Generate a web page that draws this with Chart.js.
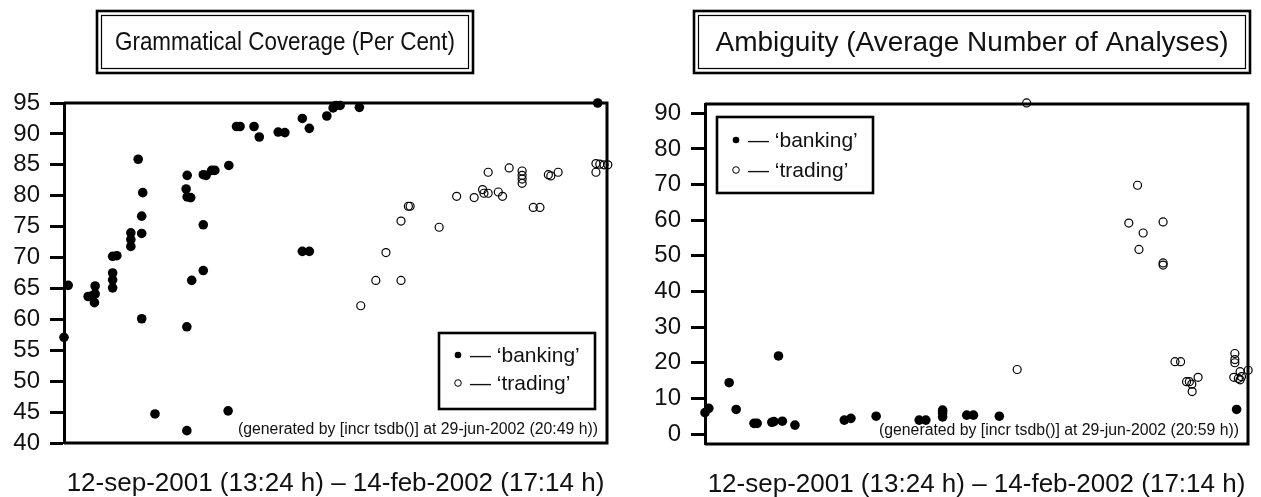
<!DOCTYPE html>
<html>
<head>
<meta charset="utf-8">
<script src="https://cdn.jsdelivr.net/npm/chart.js@4.4.1/dist/chart.umd.min.js"></script>
<style>
  body { margin: 0; background: #fff; }
  #wrap { position: relative; width: 1261px; height: 497px; }
  .panel { position: absolute; top: 0; }
</style>
</head>
<body>
<div id="wrap">
  <div class="panel" style="left:0"><canvas id="cov" width="630" height="497"></canvas></div>
  <div class="panel" style="left:630px"><canvas id="amb" width="631" height="497"></canvas></div>
</div>
<script>
// x values are days since 12-sep-2001 (13:24 h); the range ends 14-feb-2002 (17:14 h)
const periodDays = 155.16;
const periodLabel = '12-sep-2001 (13:24 h) \u2013 14-feb-2002 (17:14 h)';
const seriesNames = ['banking', 'trading'];

// coverage (per cent)
const covBankingDays = [0, 1.2, 6.9, 8.0, 8.9, 8.9, 8.7, 13.9, 13.9, 13.9, 13.9, 15.1, 19.1, 19.1, 19.1,
  21.2, 22.5, 22.2, 22.2, 22.2, 26.0, 34.9, 35.2, 35.2, 35.1, 35.1, 36.2, 36.5, 39.8, 39.8, 39.8,
  40.6, 42.2, 43.1, 46.9, 47.1, 49.3, 50.3, 54.3, 55.8, 61.2, 63.1, 68.1, 68.1, 70.1, 70.1, 75.1,
  76.9, 77.7, 78.9, 84.4, 152.5];
const covBanking = [57.1, 65.5, 63.7, 63.8, 65.4, 64.1, 62.7, 67.5, 66.4, 65.1, 70.2, 70.3, 74.0, 72.9, 71.8,
  85.9, 80.5, 76.7, 73.9, 60.1, 44.7, 81.1, 83.3, 79.8, 58.8, 42.0, 79.7, 66.3, 75.3, 67.9, 83.4,
  83.3, 84.1, 84.1, 45.2, 84.9, 91.2, 91.2, 91.2, 89.5, 90.3, 90.2, 92.5, 71.0, 90.9, 71.0, 92.9,
  94.2, 94.6, 94.6, 94.3, 95.0];
const covTradingDays = [84.8, 89.1, 92.0, 96.3, 96.3, 98.4, 98.9, 107.2, 112.2, 117.2, 119.6, 120.0, 121.2,
  121.2, 124.1, 125.3, 127.2, 130.9, 130.9, 130.9, 130.9, 134.1, 136.0, 138.4, 139.1, 141.2, 152.0,
  152.0, 153.1, 154.3, 155.4];
const covTrading = [62.2, 66.3, 70.8, 66.3, 75.9, 78.3, 78.3, 74.9, 79.9, 79.7, 81.0, 80.4, 80.4,
  83.8, 80.6, 79.9, 84.5, 84.0, 83.3, 82.7, 82.0, 78.1, 78.1, 83.4, 83.2, 83.8, 83.8,
  85.2, 85.1, 85.0, 85.0];
const covTicks = [40, 45, 50, 55, 60, 65, 70, 75, 80, 85, 90, 95];

// ambiguity (average number of analyses)
const ambBankingDays = [0, 1.1, 6.9, 8.9, 14.0, 14.9, 19.1, 19.7, 21.0, 22.1, 25.7, 39.8, 41.7, 48.9,
  61.2, 63.1, 67.9, 67.9, 67.9, 74.8, 76.7, 84.1, 151.9];
const ambBanking = [6.0, 7.2, 14.4, 6.9, 3.0, 3.0, 3.3, 3.5, 21.9, 3.6, 2.5, 3.9, 4.4, 5.0,
  3.9, 3.9, 6.7, 5.9, 4.8, 5.3, 5.3, 5.0, 6.9];
const ambTradingDays = [89.2, 91.9, 121.1, 123.6, 124.0, 125.2, 130.9, 130.9, 130.9, 134.3, 135.9, 137.6,
  138.4, 139.2, 139.1, 140.9, 151.4, 151.4, 151.4, 151.1, 152.4, 153.3, 152.9, 155.2, 152.9];
const ambTrading = [18.1, 92.9, 59.2, 69.8, 51.8, 56.4, 59.5, 48.0, 47.4, 20.3, 20.3, 14.7,
  14.7, 11.9, 14.0, 15.9, 22.6, 20.9, 20.0, 15.9, 15.6, 16.1, 17.5, 17.9, 15.2];
const ambTicks = [0, 10, 20, 30, 40, 50, 60, 70, 80, 90];

const FONT = '"Liberation Sans", Arial, Helvetica, sans-serif';
const INK = '#111';

function pairs(xs, ys) {
  return xs.map((x, i) => ({ x: x, y: ys[i] }));
}

// frame, boxed title, period label, footnote and boxed legend
const decor = {
  id: 'decor',
  afterDraw(chart, args, o) {
    const ctx = chart.ctx;
    const a = chart.chartArea;
    ctx.save();
    ctx.strokeStyle = '#000';
    ctx.lineWidth = 3;
    ctx.beginPath();
    ctx.moveTo(a.left, a.top);
    ctx.lineTo(a.right, a.top);
    ctx.lineTo(a.right, a.bottom);
    ctx.lineTo(a.left, a.bottom);
    ctx.stroke();

    const b = o.titleBox;
    ctx.lineWidth = 2.6;
    ctx.strokeRect(b.x, b.y, b.w, b.h);
    ctx.lineWidth = 1.2;
    ctx.strokeRect(b.x + 4.5, b.y + 4.5, b.w - 9, b.h - 9);
    ctx.fillStyle = INK;
    ctx.font = o.titleSize + 'px ' + FONT;
    ctx.textAlign = 'center';
    ctx.textBaseline = 'middle';
    ctx.fillText(o.title, b.x + b.w / 2, b.y + b.h / 2 + 1, o.titleWidth);

    ctx.font = '26px ' + FONT;
    ctx.textBaseline = 'alphabetic';
    ctx.fillText(periodLabel, (a.left + a.right) / 2, o.periodY);

    ctx.font = '15.8px ' + FONT;
    ctx.textAlign = 'right';
    ctx.fillText(o.note, a.right - 9, a.bottom - 9);

    const L = o.legend;
    ctx.lineWidth = 2.6;
    ctx.strokeRect(L.x, L.y, L.w, L.h);
    ctx.font = '21px ' + FONT;
    ctx.textAlign = 'left';
    ctx.textBaseline = 'middle';
    chart.data.datasets.forEach((ds, i) => {
      const y = L.y + L.rows[i];
      ctx.beginPath();
      ctx.arc(L.x + 19, y, 3.3, 0, Math.PI * 2);
      if (i === 0) {
        ctx.fillStyle = '#000';
        ctx.fill();
      } else {
        ctx.lineWidth = 1;
        ctx.stroke();
      }
      ctx.fillStyle = INK;
      ctx.fillText('\u2014 \u2018' + ds.label + '\u2019', L.x + 31, y + 1);
    });
    ctx.restore();
  }
};

function makeChart(id, cfg) {
  return new Chart(document.getElementById(id), {
    type: 'scatter',
    data: {
      datasets: [
        {
          label: seriesNames[0],
          data: pairs(cfg.bx, cfg.by),
          pointStyle: 'circle',
          pointRadius: 4.8,
          pointBackgroundColor: '#000',
          pointBorderWidth: 0,
          clip: false
        },
        {
          label: seriesNames[1],
          data: pairs(cfg.tx, cfg.ty),
          pointStyle: 'circle',
          pointRadius: 4,
          pointBackgroundColor: 'rgba(0,0,0,0)',
          pointBorderColor: '#000',
          pointBorderWidth: 1.2,
          clip: false
        }
      ]
    },
    options: {
      responsive: false,
      animation: false,
      layout: { padding: cfg.padding },
      plugins: {
        legend: { display: false },
        tooltip: { enabled: false },
        decor: cfg.decor
      },
      scales: {
        x: {
          type: 'linear',
          display: false,
          min: 0,
          max: periodDays
        },
        y: {
          min: cfg.ymin,
          max: cfg.ymax,
          afterBuildTicks: (scale) => {
            scale.ticks = cfg.ticks.map(v => ({ value: v }));
          },
          afterFit: (scale) => { scale.width = cfg.axisWidth; },
          border: { display: true, width: 3, color: '#000' },
          grid: {
            drawOnChartArea: false,
            drawTicks: true,
            tickLength: 14,
            tickWidth: 3,
            tickColor: '#000'
          },
          ticks: {
            autoSkip: false,
            padding: 10,
            color: INK,
            font: { family: FONT, size: 24 }
          }
        }
      }
    },
    plugins: [decor]
  });
}

makeChart('cov', {
  bx: covBankingDays, by: covBanking, tx: covTradingDays, ty: covTrading,
  ymin: 40, ymax: 95, ticks: covTicks, axisWidth: 64,
  padding: { left: 0, right: 23, top: 103, bottom: 54 },
  decor: {
    title: 'Grammatical Coverage (Per Cent)', titleSize: 25.5, titleWidth: 340,
    titleBox: { x: 97, y: 11, w: 376, h: 62 },
    periodY: 491,
    note: '(generated by [incr tsdb()] at 29-jun-2002 (20:49 h))',
    legend: { x: 439, y: 333, w: 156, h: 76, rows: [22, 50] }
  }
});

makeChart('amb', {
  bx: ambBankingDays, by: ambBanking, tx: ambTradingDays, ty: ambTrading,
  ymin: -2.8, ymax: 92.6, ticks: ambTicks, axisWidth: 75,
  padding: { left: 0, right: 13, top: 104, bottom: 53 },
  decor: {
    title: 'Ambiguity (Average Number of Analyses)', titleSize: 28, titleWidth: 522,
    titleBox: { x: 64, y: 11, w: 556, h: 62 },
    periodY: 492,
    note: '(generated by [incr tsdb()] at 29-jun-2002 (20:59 h))',
    legend: { x: 87, y: 117, w: 156, h: 76, rows: [23, 53] }
  }
});
</script>
</body>
</html>
